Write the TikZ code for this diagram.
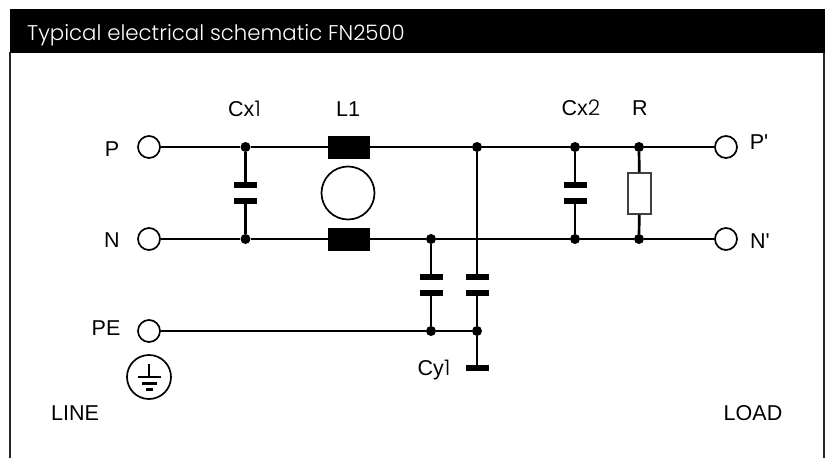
\documentclass[tikz,border=0pt]{standalone}
\usepackage{fontspec}
\setmainfont{Liberation Sans}
\newfontfamily\lightfont[UprightFont=* Light]{Poppins}
\usetikzlibrary{calc}

\begin{document}
\begin{tikzpicture}[x=1pt, y=-1pt]
\tikzset{
  wire/.style={line width=2.7pt},
  term/.style={draw, circle, fill=white, line width=1.7pt, minimum size=22pt, inner sep=0pt},
  jdot/.style={circle, fill=black, minimum size=10pt, inner sep=0pt},
  plate/.style={rectangle, fill=black, minimum width=23pt, minimum height=6.5pt, inner sep=0pt},
  choke/.style={rectangle, fill=black, minimum width=42pt, minimum height=23pt, inner sep=0pt},
  lbl/.style={anchor=base, inner sep=0pt, font=\fontsize{21.5}{21.5}\selectfont}
  };

\def\yP{147}
\def\yN{239}
\def\yE{331}
\newcommand{\thin}[1]{{\lightfont\fontsize{21.5}{21.5}\selectfont #1}}

\useasboundingbox (0,0) rectangle (828,458);
\fill[white] (0,0) rectangle (828,458);

% frame and title
\draw[line width=1.4pt, black!85] (10,52) -- (10,458);
\draw[line width=1.4pt, black!85] (824,52) -- (824,458);
\node[rectangle, fill=black, text=white, anchor=north west, minimum width=815pt, minimum height=44pt,
      inner sep=0pt] (head) at (9.5,8.5) {};
\node[anchor=base west, inner sep=0pt, text=white, font=\lightfont\fontsize{21.3}{21.3}\selectfont]
      (title) at (27,40) {Typical electrical schematic FN2500};

% terminals
\node[term] (P)  at (149,\yP) {};
\node[term] (N)  at (149,\yN) {};
\node[term] (PE) at (149,\yE) {};
\node[term] (Pp) at (726,\yP) {};
\node[term] (Np) at (726,\yN) {};

% junctions
\node[jdot] (a1) at (245.5,\yP) {};
\node[jdot] (a2) at (245.5,\yN) {};
\node[jdot] (b1) at (477,\yP) {};
\node[jdot] (c2) at (431,\yN) {};
\node[jdot] (c3) at (431,\yE) {};
\node[jdot] (b3) at (477,\yE) {};
\node[jdot] (d1) at (575,\yP) {};
\node[jdot] (d2) at (575,\yN) {};
\node[jdot] (e1) at (639,\yP) {};
\node[jdot] (e2) at (639,\yN) {};

% parts
\node[choke] (L1a) at (349,\yP) {};
\node[choke] (L1b) at (349,\yN) {};
\node[draw, circle, line width=1.7pt, minimum size=53pt, inner sep=0pt] (L1c) at (348,193) {};
\node[plate] (Cx1a) at (245.5,185) {};
\node[plate] (Cx1b) at (245.5,201) {};
\node[plate] (Cx2a) at (575,185) {};
\node[plate] (Cx2b) at (575,201) {};
\node[plate] (Cy2a) at (431,277) {};
\node[plate] (Cy2b) at (431,293) {};
\node[plate] (Cy1a) at (477,277) {};
\node[plate] (Cy1b) at (477,293) {};
\node[plate] (Cy1c) at (477,368) {};
\node[draw=black!75, rectangle, fill=white, line width=1.5pt, minimum width=23pt, minimum height=41pt, inner sep=0pt] (R) at (639.5,193.5) {};

\begin{scope}[wire]
\draw (P) -- (a1) -- (L1a) -- (b1) -- (d1) -- (e1) -- (Pp);
\draw (N) -- (a2) -- (L1b) -- (c2) -- (d2) -- (e2) -- (Np);
\draw (PE) -- (c3) -- (b3);
\draw (a1) -- (Cx1a);
\draw (Cx1b) -- (a2);
\draw (d1) -- (Cx2a);
\draw (Cx2b) -- (d2);
\draw (e1) -- (R);
\draw (R) -- (e2);
\draw (c2) -- (Cy2a);
\draw (Cy2b) -- (c3);
\draw (b1) -- (Cy1a);
\draw (Cy1b) -- (b3);
\draw (b3) -- (Cy1c);
\end{scope}

% earth symbol
\node[draw, circle, line width=1.7pt, minimum size=44pt, inner sep=0pt] (E) at (149,377) {};
\draw[wire] (E.center) ++(0,-13.5) -- ++(0,13.5);
\draw[line width=2.6pt] ($(E.center)+(-11.5,0)$) -- ($(E.center)+(11.5,0)$);
\draw[line width=2.6pt] ($(E.center)+(-7.5,6.5)$) -- ($(E.center)+(7.5,6.5)$);
\draw[line width=2.6pt] ($(E.center)+(-3.5,12.5)$) -- ($(E.center)+(3.5,12.5)$);

% labels
\node[lbl] (tP)    at (112,156)   {P};
\node[lbl] (tN)    at (112,247.5) {N};
\node[lbl] (tPE)   at (106,335)   {PE};
\node[lbl] (tLine) at (75,420.7)  {LINE};
\node[lbl] (tLoad) at (753,420.7) {LOAD};
\node[lbl] (tCx1)  at (244.5,116) {Cx\thin{1}};
\node[lbl] (tL1)   at (348,116)   {L1};
\node[lbl] (tCx2)  at (581,115.6) {Cx\thin{2}};
\node[lbl] (tR)    at (640,115.6) {R};
\node[lbl] (tPp)   at (759,149)   {P\textquotesingle};
\node[lbl] (tNp)   at (760,248)   {N\textquotesingle};
\node[lbl] (tCy1)  at (434,375)   {Cy\thin{1}};

\end{tikzpicture}
\end{document}
